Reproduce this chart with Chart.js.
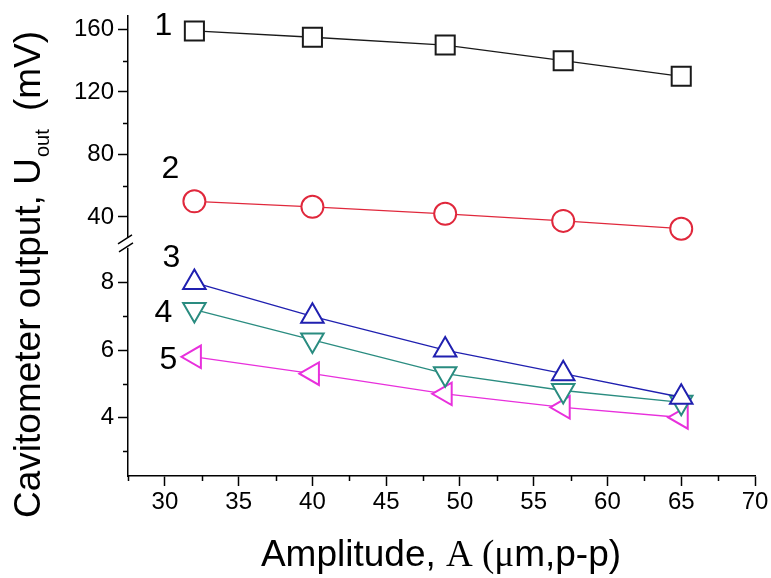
<!DOCTYPE html>
<html>
<head>
<meta charset="utf-8">
<title>Cavitometer output vs amplitude</title>
<script src="https://cdn.jsdelivr.net/npm/chart.js@4.4.0/dist/chart.umd.min.js"></script>
<style>
  html, body { margin: 0; padding: 0; background: #fff; }
</style>
</head>
<body>
<canvas id="chart" width="771" height="578"></canvas>
<script>
// amplitude (um, p-p) and the five cavitometer curves (mV)
const amplitude = [32, 40, 49, 57, 65];
const curve1 = [159, 155, 150, 140, 130];
const curve2 = [50, 46.5, 42, 37.5, 32.5];
const curve3 = [8.0, 7.0, 6.0, 5.3, 4.6];
const curve4 = [7.2, 6.3, 5.3, 4.8, 4.45];
const curve5 = [5.8, 5.3, 4.7, 4.3, 4.0];
const curveNames = ['1', '2', '3', '4', '5'];

// axis ticks
const xTicks = [30, 35, 40, 45, 50, 55, 60, 65, 70];
const xMinorTicks = [27.5, 32.5, 37.5, 42.5, 47.5, 52.5, 57.5, 62.5, 67.5];
const yTopTicks = [40, 80, 120, 160];
const yTopMinorTicks = [60, 100, 140];
const yBottomTicks = [4, 6, 8];
const yBottomMinorTicks = [3, 5, 7];

const SANS = '"Liberation Sans", Arial, sans-serif';
const SERIF = '"Liberation Serif", "Times New Roman", serif';

function points(ys) {
    return amplitude.map((x, i) => ({ x: x, y: ys[i] }));
}

function series(ys, color, style, rot, radius, axis) {
    return {
        data: points(ys),
        yAxisID: axis,
        borderColor: color,
        borderWidth: 1.3,
        pointStyle: style,
        pointRotation: rot,
        pointRadius: radius,
        pointBorderWidth: 2,
        pointBorderColor: color,
        pointBackgroundColor: '#fff',
        tension: 0
    };
}

// offsets of the curve numbers from the first point of each curve (px)
const nameOffsets = [[-31, -5], [-24, -32], [-23, -24], [-31, 4], [-26, 3]];

const extras = {
    id: 'extras',
    afterDraw(chart) {
        const ctx = chart.ctx;
        const sx = chart.scales.x, yt = chart.scales.yTop, yb = chart.scales.yBottom;
        const area = chart.chartArea;
        ctx.save();
        ctx.strokeStyle = '#000';
        ctx.lineWidth = 1.5;
        // minor ticks
        ctx.beginPath();
        xMinorTicks.forEach(v => {
            const px = Math.round(sx.getPixelForValue(v)) + 0.5;
            ctx.moveTo(px, area.bottom);
            ctx.lineTo(px, area.bottom + 5);
        });
        yTopMinorTicks.forEach(v => {
            const py = Math.round(yt.getPixelForValue(v)) + 0.5;
            ctx.moveTo(area.left, py);
            ctx.lineTo(area.left - 5, py);
        });
        yBottomMinorTicks.forEach(v => {
            const py = Math.round(yb.getPixelForValue(v)) + 0.5;
            ctx.moveTo(area.left, py);
            ctx.lineTo(area.left - 5, py);
        });
        ctx.stroke();

        // axis break
        const by = yt.bottom;
        ctx.fillStyle = '#fff';
        ctx.fillRect(area.left - 4, by - 5, 8, 10);
        ctx.beginPath();
        ctx.moveTo(area.left - 10, by + 1);
        ctx.lineTo(area.left + 4, by - 8);
        ctx.moveTo(area.left - 9, by + 9);
        ctx.lineTo(area.left + 5, by);
        ctx.stroke();

        // curve numbers
        ctx.fillStyle = '#000';
        ctx.font = '32px ' + SANS;
        ctx.textAlign = 'center';
        ctx.textBaseline = 'middle';
        chart.data.datasets.forEach((ds, i) => {
            const p = chart.getDatasetMeta(i).data[0];
            ctx.fillText(curveNames[i], p.x + nameOffsets[i][0], p.y + nameOffsets[i][1]);
        });

        // x title
        ctx.textAlign = 'left';
        ctx.textBaseline = 'alphabetic';
        const parts = [
            ['Amplitude, ', '37px ' + SANS],
            ['A (\u03bc', '37px ' + SERIF],
            ['m,p-p)', '37px ' + SANS]
        ];
        let total = 0;
        parts.forEach(p => { ctx.font = p[1]; total += ctx.measureText(p[0]).width; });
        let tx = 441 - total / 2;
        parts.forEach(p => {
            ctx.font = p[1];
            ctx.fillText(p[0], tx, 566);
            tx += ctx.measureText(p[0]).width;
        });

        // y title with subscript
        ctx.translate(40, 518);
        ctx.rotate(-Math.PI / 2);
        ctx.font = '37px ' + SANS;
        const main = 'Cavitometer output, U';
        ctx.fillText(main, 0, 0);
        let ox = ctx.measureText(main).width + 1;
        ctx.font = '20px ' + SANS;
        ctx.fillText('out', ox, 9);
        ox += ctx.measureText('out').width + 8;
        ctx.font = '37px ' + SANS;
        ctx.fillText(' (mV)', ox, 0);
        ctx.restore();
    }
};

function yAxis(min, max, ticks, weight) {
    return {
        type: 'linear',
        position: 'left',
        stack: 'y',
        stackWeight: weight,
        min: min,
        max: max,
        afterBuildTicks: s => { s.ticks = ticks.map(v => ({ value: v })); },
        afterFit: s => { s.width = 128; s.paddingTop = 0; s.paddingBottom = 0; },
        ticks: { color: '#000', font: { size: 24, family: SANS }, padding: 4 },
        grid: { drawOnChartArea: false, tickLength: 10, tickColor: '#000', tickWidth: 1.5 },
        border: { color: '#000', width: 1.5 }
    };
}

new Chart(document.getElementById('chart'), {
    type: 'line',
    data: {
        datasets: [
            series(curve1, '#1a1a1a', 'rect', 0, 13.5, 'yTop'),
            series(curve2, '#e0283c', 'circle', 0, 11, 'yTop'),
            series(curve3, '#2020b0', 'triangle', 0, 13, 'yBottom'),
            series(curve4, '#2a8c80', 'triangle', 180, 13, 'yBottom'),
            series(curve5, '#e830dc', 'triangle', -90, 13, 'yBottom')
        ]
    },
    options: {
        responsive: false,
        animation: false,
        devicePixelRatio: 1,
        layout: { padding: { left: 0, top: 12, right: 16, bottom: 0 } },
        plugins: { legend: { display: false }, tooltip: { enabled: false } },
        scales: {
            x: {
                type: 'linear',
                position: 'bottom',
                min: 27.5,
                max: 70,
                afterBuildTicks: s => { s.ticks = xTicks.map(v => ({ value: v })); },
                afterFit: s => { s.height = 102; },
                ticks: { color: '#000', font: { size: 24, family: SANS }, padding: 2, maxRotation: 0 },
                grid: { drawOnChartArea: false, tickLength: 10, tickColor: '#000', tickWidth: 1.5 },
                border: { color: '#000', width: 1.5 }
            },
            // the stack is laid out bottom-first here, so the lower segment comes first
            yBottom: yAxis(2.265, 9.18, yBottomTicks, 235),
            yTop: yAxis(23.5, 168.9, yTopTicks, 229)
        }
    },
    plugins: [extras]
});
</script>
</body>
</html>
